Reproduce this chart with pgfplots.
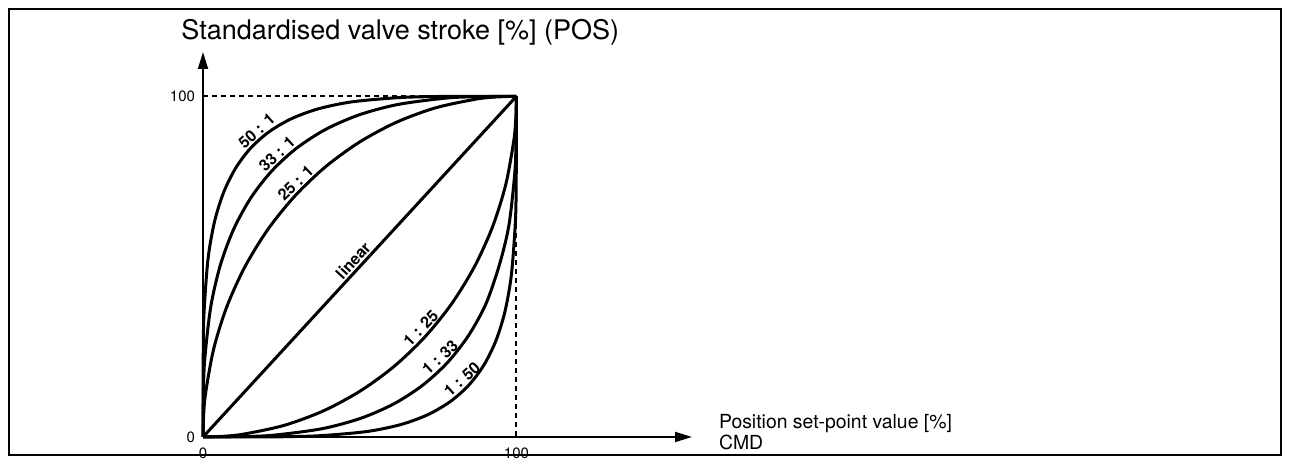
\documentclass[border=0pt]{standalone}
\usepackage{fontspec}
\setmainfont{TeX Gyre Heros}
\usepackage{pgfplots}
\pgfplotsset{compat=1.18}
\usetikzlibrary{arrows.meta}
\begin{document}
\begin{tikzpicture}
\useasboundingbox (0,0) rectangle (645pt,232pt);
\draw[line width=1pt] (4.5pt,4.5pt) rectangle (640.5pt,227.5pt);
\begin{axis}[
  at={(101.5pt,13.5pt)}, anchor=south west,
  scale only axis, width=244.5pt, height=192.5pt,
  xmin=0, xmax=156, ymin=0, ymax=113,
  axis lines=left,
  axis line style={line width=1pt, -{Triangle[length=8.5pt,width=5pt]}},
  xtick={0,100}, ytick={0,100},
  xticklabels={0,100}, yticklabels={0,100},
  major tick length=0pt,
  tick label style={font=\fontsize{7.5}{8}\selectfont},
  xticklabel style={yshift=-2pt},
  yticklabel style={xshift=-0.5pt},
  clip=false,
  every axis plot/.append style={line width=1.5pt, line join=round},
]
\addplot[black, line width=1pt, dash pattern=on 2.5pt off 2pt] coordinates {(0,100) (100,100) (100,0)};
% 50:1
\addplot[black, smooth] coordinates {(0,0)(0.10,27.29)(0.41,37.92)(1.64,52.54)(3.70,63.30)(6.62,71.88)(10.44,78.95)(15.21,84.79)(21.05,89.56)(28.12,93.38)(36.71,96.30)(47.46,98.36)(62.08,99.59)(72.71,99.90)(82.35,99.98)(100,100)};
% 33:1
\addplot[black, smooth] coordinates {(0,0)(0.15,14.26)(0.61,23.35)(2.45,38.08)(5.50,50.35)(9.76,60.95)(15.24,70.15)(21.93,78.07)(29.85,84.76)(39.05,90.24)(49.65,94.50)(61.92,97.55)(76.65,99.39)(85.74,99.85)(100,100)};
% 25:1
\addplot[black, smooth] coordinates {(0,0)(0.21,6.54)(0.86,13.05)(3.41,25.88)(7.61,38.27)(13.40,50)(20.66,60.88)(29.29,70.71)(39.12,79.34)(50,86.60)(61.73,92.39)(74.12,96.59)(86.95,99.14)(93.46,99.79)(100,100)};
% linear
\addplot[black] coordinates {(0,0)(100,100)};
% 1:25
\addplot[black, smooth] coordinates {(0,0)(6.54,0.21)(13.05,0.86)(25.88,3.41)(38.27,7.61)(50,13.40)(60.88,20.66)(70.71,29.29)(79.34,39.12)(86.60,50)(92.39,61.73)(96.59,74.12)(99.14,86.95)(99.79,93.46)(100,100)};
% 1:33
\addplot[black, smooth] coordinates {(0,0)(14.26,0.15)(23.35,0.61)(38.08,2.45)(50.35,5.50)(60.95,9.76)(70.15,15.24)(78.07,21.93)(84.76,29.85)(90.24,39.05)(94.50,50.35)(97.55,61.92)(99.39,76.65)(99.85,85.74)(100,100)};
% 1:50
\addplot[black, smooth] coordinates {(0,0)(17.65,0.02)(27.29,0.10)(37.92,0.41)(52.54,1.64)(63.30,3.70)(71.88,6.62)(78.95,10.44)(84.79,15.21)(89.56,21.05)(93.38,28.12)(96.30,36.71)(98.36,47.46)(99.59,62.08)(99.90,72.71)(100,100)};
\begin{scope}[every node/.style={font=\bfseries\fontsize{8}{9}\selectfont, inner sep=1.3pt, anchor=south}]
\node[rotate=42] at (axis cs:19,87.9) {50 : 1};
\node[rotate=43] at (axis cs:25.5,81.1) {33 : 1};
\node[rotate=44] at (axis cs:31.5,72.7) {25 : 1};
\node[rotate=47.5] at (axis cs:50,50) {linear};
\node[rotate=46] at (axis cs:71.5,30.1) {1 : 25};
\node[rotate=43] at (axis cs:77.5,21.5) {1 : 33};
\node[rotate=42] at (axis cs:84.5,15.0) {1 : 50};
\end{scope}
\node[anchor=base west, inner sep=0pt, font=\fontsize{13.5}{15}\selectfont] at (axis cs:-7,116.7) {Standardised valve stroke [\%] (POS)};
\node[anchor=base west, inner sep=0pt, font=\fontsize{9.7}{12}\selectfont] at (axis cs:164.5,2.6) {Position set-point value [\%]};
\node[anchor=base west, inner sep=0pt, font=\fontsize{9.7}{12}\selectfont] at (axis cs:164.5,-3.6) {CMD};
\end{axis}
\end{tikzpicture}
\end{document}
